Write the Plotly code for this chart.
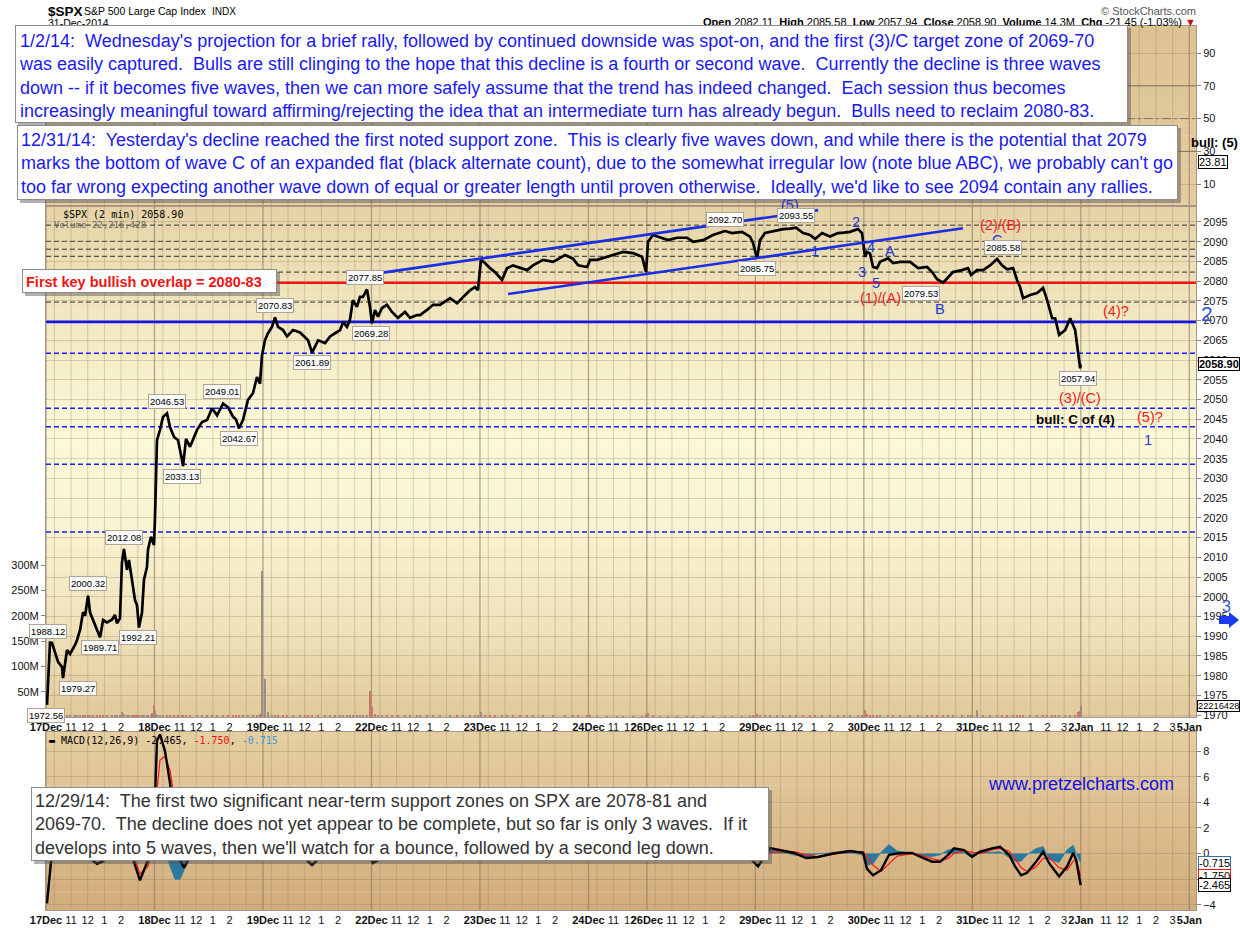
import plotly.graph_objects as go

# ------------------------------------------------------------------ data
# time axis = trading hours since the 17 Dec 2014 open (09:30)
day_names = ["17Dec", "18Dec", "19Dec", "22Dec", "23Dec", "24Dec", "26Dec",
             "29Dec", "30Dec", "31Dec", "2Jan", "5Jan"]
day_start = [0, 6.5, 13, 19.5, 26, 32.5, 36, 42.5, 49, 55.5, 62, 68.5]
day_len = [6.5, 6.5, 6.5, 6.5, 6.5, 3.5, 6.5, 6.5, 6.5, 6.5, 6.5, 6.5]
hour_offsets = [1.5, 2.5, 3.5, 4.5, 5.5]
hour_labels = ["11", "12", "1", "2", "3"]
days_with_3pm_label = ["31Dec", "2Jan"]

t_hours = [
    0.06, 0.24, 0.36, 0.54, 0.72, 0.96, 1.02, 1.26, 1.44, 1.74, 1.86, 2.04, 2.22, 2.34, 2.52, 2.64,
    2.82, 3.06, 3.24, 3.42, 3.65, 3.95, 4.13, 4.25, 4.43, 4.55, 4.67, 4.85, 4.97, 5.15, 5.21, 5.33,
    5.45, 5.57, 5.75, 5.87, 6.05, 6.11, 6.29, 6.35, 6.47,
    6.53, 6.59, 6.65, 6.83, 7.01, 7.25, 7.43, 7.67, 7.91, 8.15, 8.21, 8.39, 8.63, 9.05, 9.35, 9.65,
    9.95, 10.25, 10.61, 10.91, 11.21, 11.38, 11.56, 11.80, 12.10, 12.40, 12.64, 12.82, 12.94,
    13.12, 13.30, 13.54, 13.72, 13.90, 14.20, 14.44, 14.80, 15.22, 15.52, 15.70, 15.94, 16.30,
    16.72, 17.02, 17.32, 17.62, 17.80, 18.03, 18.21, 18.39, 18.63, 18.81, 18.99, 19.23, 19.41,
    19.53, 19.71, 19.89, 20.13, 20.43, 20.73, 21.09, 21.51, 21.81, 22.23, 22.41, 22.83, 23.19,
    23.61, 24.21, 24.63, 24.99, 25.40, 25.70, 25.88,
    26.06, 26.30, 26.60, 26.90, 27.32, 27.62, 27.98, 28.40, 28.82, 29.18, 29.78, 30.38, 31.10,
    31.58, 31.88, 32.42,
    32.60, 33.02, 33.62, 34.21, 34.57, 35.17, 35.71, 35.95,
    36.07, 36.37, 36.79, 37.27, 37.81, 38.41, 38.77, 39.37, 39.96, 40.68, 41.10, 41.70, 42.18, 42.36,
    42.60, 42.78, 43.08, 43.38, 43.80, 44.16, 44.58, 44.94, 45.36, 45.78, 46.08, 46.50, 46.97,
    47.45, 47.81, 48.17, 48.65, 48.89,
    49.07, 49.19, 49.37, 49.55, 49.79, 49.97, 50.45, 50.75, 51.17, 51.77, 52.25, 52.79, 53.09,
    53.39, 53.75, 54.04, 54.34, 54.88, 55.24, 55.42,
    55.78, 56.14, 56.56, 56.98, 57.28, 57.58, 57.94, 58.18, 58.36, 58.54, 58.96, 59.38, 59.74,
    59.98, 60.28, 60.46, 60.70, 61.06, 61.36, 61.66, 61.84, 61.96, 61.99,
]

spx = [
    1972.6, 1988.4, 1988.3, 1985.7, 1983.5, 1982.2, 1979.4, 1986.5, 1985.5, 1987.8, 1989.0, 1991.6,
    1996.1, 1995.2, 2000.3, 1996.0, 1994.1, 1991.6, 1989.7, 1994.1, 1993.5, 1994.2, 1995.4, 1993.3,
    1994.5, 2008.6, 2012.1, 2006.8, 2009.3, 2004.3, 2002.5, 1999.2, 1997.9, 1992.2, 1995.9, 2004.3,
    2007.5, 2011.9, 2015.2, 2014.5, 2013.1,
    2020.0, 2033.0, 2039.7, 2042.3, 2045.6, 2046.5, 2043.0, 2040.5, 2039.7, 2034.7, 2033.1, 2040.0,
    2038.0, 2042.3, 2044.3, 2044.8, 2047.8, 2046.0, 2049.0, 2048.0, 2045.6, 2045.0, 2042.7, 2044.8,
    2049.9, 2051.6, 2055.7, 2054.0, 2061.2,
    2065.0, 2066.8, 2068.4, 2070.8, 2068.4, 2067.6, 2066.0, 2067.6, 2067.0, 2065.9, 2065.0, 2061.9,
    2065.0, 2064.3, 2066.0, 2066.8, 2067.6, 2069.6, 2068.4, 2070.2, 2075.2, 2073.5, 2076.0, 2076.0,
    2077.9, 2073.5,
    2069.3, 2072.7, 2071.0, 2073.2, 2074.0, 2072.2, 2070.7, 2072.2, 2070.7, 2071.4, 2071.4, 2072.7,
    2074.0, 2074.0, 2075.7, 2074.4, 2076.0, 2077.7, 2078.5, 2077.7,
    2085.4, 2084.6, 2083.3, 2082.3, 2080.3, 2083.3, 2084.0, 2083.3, 2082.8, 2084.0, 2085.4, 2084.9,
    2086.6, 2085.7, 2084.0, 2083.6,
    2085.4, 2085.4, 2086.2, 2087.1, 2087.4, 2087.1, 2086.2, 2082.3,
    2090.0, 2091.7, 2091.0, 2090.4, 2091.0, 2091.0, 2090.0, 2090.4, 2091.7, 2092.7, 2092.2, 2092.5,
    2091.3, 2089.7,
    2085.8, 2090.4, 2092.2, 2092.5, 2093.0, 2093.2, 2093.3, 2093.55, 2092.2, 2091.7, 2090.7, 2092.2,
    2091.3, 2092.2, 2092.3, 2092.5, 2093.2, 2092.2,
    2086.2, 2087.4, 2087.0, 2083.6, 2083.3, 2084.9, 2085.8, 2084.6, 2084.9, 2084.9, 2083.3, 2083.6,
    2082.3, 2080.5, 2079.6, 2080.8, 2082.3, 2082.8, 2083.3, 2081.6,
    2082.8, 2082.8, 2084.0, 2085.6, 2084.0, 2083.0, 2083.3, 2080.3, 2078.5, 2075.7, 2076.5, 2077.0,
    2078.3, 2075.2, 2070.6, 2070.6, 2066.4, 2067.6, 2070.6, 2067.6, 2061.8, 2057.9, 2058.9,
]

volume_m = [
    6, 4, 3, 3, 3, 3, 4, 3, 3, 3, 3, 3, 3, 3, 3, 3, 3, 3, 3, 3, 3, 3, 3, 3, 3, 9, 6, 4, 4, 3, 3, 3,
    3, 4, 3, 3, 3, 3, 4, 8, 24,
    12, 6, 4, 3, 3, 3, 3, 3, 3, 3, 3, 3, 3, 3, 3, 3, 3, 3, 3, 3, 3, 3, 3, 3, 3, 3, 4, 5, 288,
    75, 10, 4, 3, 3, 3, 3, 3, 3, 3, 3, 3, 3, 3, 3, 3, 3, 3, 3, 3, 3, 3, 3, 3, 4, 52,
    20, 5, 3, 3, 3, 3, 3, 3, 3, 3, 3, 3, 3, 3, 3, 3, 3, 3, 3, 4,
    9, 4, 3, 3, 3, 3, 3, 3, 3, 3, 3, 3, 3, 3, 3, 4,
    3, 2, 2, 2, 2, 2, 2, 6,
    8, 3, 2, 2, 2, 2, 2, 2, 2, 2, 2, 2, 2, 4,
    6, 4, 3, 3, 3, 3, 3, 3, 3, 3, 3, 3, 3, 3, 3, 3, 3, 4,
    13, 5, 3, 3, 3, 3, 3, 3, 3, 3, 3, 3, 3, 3, 3, 3, 3, 3, 3, 4,
    13, 4, 3, 3, 3, 3, 3, 3, 3, 4, 3, 3, 3, 3, 4, 3, 4, 3, 3, 4, 9, 12, 22.2,
]
last_volume = 22216428

macd_t = [0.06, 0.42, 0.84, 1.44, 2.04, 3.06, 3.42, 4.13, 4.73, 5.33, 5.63, 6.11, 6.47, 6.65, 6.83,
          7.13, 7.43, 7.73, 8.03, 8.27, 8.63, 9.83, 11.62, 12.82, 13.72, 15.22, 15.94, 16.42, 17.62,
          19.11, 19.59, 20.61, 23.0, 26.0, 27.2, 30.8, 34.4, 35.9, 36.2, 39.2, 41.9, 42.66, 43.38,
          44.82, 45.54, 46.26, 47.15, 48.17, 48.95, 49.19, 49.55, 50.03, 50.51, 50.99, 51.89, 52.37,
          53.09, 53.57, 54.04, 54.4, 55.0, 55.48, 55.96, 56.68, 57.16, 57.7, 58.06, 58.42, 58.78,
          59.26, 59.74, 60.1, 60.7, 61.18, 61.54, 61.72, 61.99]
macd_line = [-3.9, 1.0, 0.3, -0.2, 0.2, -0.8, -0.6, 0.0, 1.5, -1.0, -2.1, -0.5, 2.0, 8.8, 9.3, 8.0,
             5.5, 2.0, -0.5, -1.1, -0.3, 0.3, -0.3, 1.5, 1.2, 0.0, -0.9, -0.3, 0.3, 0.6, -0.75, 0.0,
             0.2, 1.0, -0.4, 0.1, 0.2, -0.4, 0.8, 0.0, 0.0, -1.0, 0.43, 0.04, -0.35, -0.27, 0.0, 0.2,
             0.05, -1.2, -1.7, -1.3, -0.1, 0.0, 0.05, -0.25, -0.64, -0.64, -0.12, 0.4, 0.27, -0.25,
             0.14, 0.4, 0.53, -0.1, -1.0, -1.7, -1.5, -0.75, 0.14, -0.75, -1.8, -1.0, 0.04, -0.5,
             -2.465]
macd_signal = [-3.5, 0.5, 0.4, 0.0, 0.1, -0.4, -0.5, -0.1, 0.8, -0.5, -1.6, -1.0, 0.5, 5.0, 7.3, 7.6,
               6.5, 4.0, 1.5, 0.2, -0.3, 0.2, 0.0, 0.8, 1.0, 0.3, -0.5, -0.4, 0.1, 0.4, -0.3, -0.1,
               0.2, 0.6, 0.0, 0.1, 0.2, 0.0, 0.3, 0.1, 0.0, -0.4, 0.1, 0.15, -0.1, -0.25, -0.05,
               0.15, 0.15, -0.3, -0.9, -1.4, -0.8, -0.2, 0.0, -0.1, -0.4, -0.55, -0.4, 0.0, 0.2,
               0.1, 0.0, 0.3, 0.4, 0.2, -0.4, -1.1, -1.4, -1.1, -0.4, -0.3, -1.1, -1.3, -0.6, -0.5,
               -1.75]
macd_hist = [-0.4, 0.5, -0.1, -0.2, 0.1, -0.4, -0.1, 0.1, 0.7, -0.5, -0.5, 0.5, 1.5, 3.8, 2.0, 0.4,
             -1.0, -2.0, -2.0, -1.3, 0.0, 0.1, -0.3, 0.7, 0.2, -0.3, -0.4, 0.1, 0.2, 0.2, -0.45, 0.1,
             0.0, 0.4, -0.4, 0.0, 0.0, -0.4, 0.5, -0.1, 0.0, -0.6, 0.33, -0.11, -0.25, -0.02, 0.05,
             0.05, -0.1, -0.9, -0.8, 0.1, 0.7, 0.2, 0.05, -0.15, -0.24, -0.09, 0.28, 0.4, 0.07,
             -0.35, 0.14, 0.1, 0.13, -0.3, -0.6, -0.6, -0.1, 0.35, 0.54, -0.45, -0.7, 0.3, 0.64,
             0.0, -0.715]

rsi_last = 23.81

# labelled highs / lows
label_values = [1972.56, 1979.27, 1988.12, 1989.71, 2000.32, 1992.21, 2012.08, 2046.53, 2033.13,
                2049.01, 2042.67, 2070.83, 2061.89, 2077.85, 2069.28, 2092.70, 2093.55, 2085.75,
                2079.53, 2085.58, 2057.94]
label_t = [0.0, 1.92, 0.12, 3.24, 2.52, 5.51, 4.67, 7.25, 8.15, 10.55, 11.56, 13.72, 15.94, 19.11,
           19.47, 40.68, 44.94, 42.6, 52.43, 57.34, 61.84]
label_above = [False, False, True, False, True, False, True, True, False, True, False, True, False,
               True, False, True, True, False, False, True, False]

# horizontal levels
fib_black = [2094.2, 2090.1, 2088.1, 2086.3, 2082.3, 2074.7]
support_blue_dashed = [2061.7, 2047.8, 2043.1, 2033.6, 2016.4]
overlap_red = 2079.6
support_blue = 2069.7

# rising channel
channel_upper_t = [19.23, 46.26]
channel_upper_p = [2081.6, 2098.0]
channel_lower_t = [27.68, 54.94]
channel_lower_p = [2076.75, 2093.4]

rsi_levels = [70, 50, 30]

assert len(t_hours) == len(spx) == len(volume_m)
assert len(macd_t) == len(macd_line) == len(macd_signal) == len(macd_hist)

# ------------------------------------------------------------------ geometry
W, H = 1240, 928
ML, MR, MT, MB = 46, 44, 26, 18
PW = W - ML - MR
PH = H - MT - MB


def PX(x):
    return (x - ML) / PW


def PY(y):
    return (H - MB - y) / PH


DOM_TOP = [PY(205), 1.0]
DOM_PRICE = [PY(717), PY(207)]
DOM_MACD = [0.0, PY(732)]
X_RANGE = [0, 68.9]
FONT = "Liberation Sans, Arial, sans-serif"
MONO = "DejaVu Sans Mono, monospace"
BLUE = "#1a1af0"
WAVE_BLUE = "#2238d0"
RED = "#ee2222"

shapes = []
annotations = []


# ---------------- background gradients
def interp(stops, f):
    for (f0, c0), (f1, c1) in zip(stops[:-1], stops[1:]):
        if f0 <= f <= f1:
            a = (f - f0) / (f1 - f0) if f1 > f0 else 0
            return "rgb(%d,%d,%d)" % tuple(round(c0[i] + (c1[i] - c0[i]) * a) for i in range(3))
    return "rgb(%d,%d,%d)" % stops[-1][1]


def gradient(ytop, ybot, stops, n):
    for i in range(n):
        ya = ytop + (ybot - ytop) * i / n
        yb = ytop + (ybot - ytop) * (i + 1) / n
        shapes.append(dict(type="rect", xref="paper", yref="paper", x0=0, x1=1,
                           y0=PY(yb + 0.4), y1=PY(ya), fillcolor=interp(stops, (i + 0.5) / n),
                           line=dict(width=0), layer="below"))


gradient(26, 205, [(0, (221, 194, 147)), (1, (227, 205, 160))], 18)
gradient(207, 717, [(0, (229, 211, 167)), (0.2, (241, 230, 191)), (0.45, (251, 249, 216)),
                    (0.62, (249, 244, 210)), (0.82, (240, 227, 188)), (1, (225, 202, 154))], 60)
gradient(732, 910, [(0, (230, 207, 161)), (1, (209, 172, 124))], 20)

# ---------------- vertical grid
day_lines, hour_lines = [], []
for s, L in zip(day_start, day_len):
    if s <= X_RANGE[1]:
        day_lines.append(s)
    for off in [0.5, 1.5, 2.5, 3.5, 4.5, 5.5]:
        if off < L and s + off < X_RANGE[1]:
            hour_lines.append(s + off)
for dom in (DOM_TOP, DOM_PRICE, DOM_MACD):
    shapes.append(dict(type="path", xref="x", yref="paper", layer="below",
                       path=" ".join("M%.3f,%.5f L%.3f,%.5f" % (x, dom[0], x, dom[1]) for x in hour_lines),
                       line=dict(color="rgba(150,128,98,0.33)", width=1)))
    shapes.append(dict(type="path", xref="x", yref="paper", layer="below",
                       path=" ".join("M%.3f,%.5f L%.3f,%.5f" % (x, dom[0], x, dom[1]) for x in day_lines),
                       line=dict(color="rgba(135,115,95,0.6)", width=1.3)))

# ---------------- horizontal levels
for lv in fib_black:
    shapes.append(dict(type="line", xref="paper", yref="y2", x0=0, x1=1, y0=lv, y1=lv, layer="between",
                       line=dict(color="#333333", width=1, dash="5px,3px")))
for lv in support_blue_dashed:
    shapes.append(dict(type="line", xref="paper", yref="y2", x0=0, x1=1, y0=lv, y1=lv, layer="between",
                       line=dict(color="#1a1aff", width=1.5, dash="5px,3px")))
shapes.append(dict(type="line", xref="paper", yref="y2", x0=0, x1=1, y0=overlap_red, y1=overlap_red,
                   layer="between", line=dict(color="#ff1010", width=2.6)))
shapes.append(dict(type="line", xref="paper", yref="y2", x0=0, x1=1, y0=support_blue, y1=support_blue,
                   layer="between", line=dict(color="#1414f0", width=2.8)))
for lv in rsi_levels:
    shapes.append(dict(type="line", xref="paper", yref="y3", x0=0, x1=1, y0=lv, y1=lv, layer="between",
                       line=dict(color="#7a6e62", width=1, dash="dashdot" if lv == 50 else "solid")))

# blue arrow at the right edge
ax0, ax1, ahead = 1219, 1239, 1229
ay = 620
shapes.append(dict(type="path", xref="paper", yref="paper", fillcolor="#1a3cf0", line=dict(width=0),
                   path="M%f,%f L%f,%f L%f,%f L%f,%f L%f,%f L%f,%f L%f,%f Z" % (
                       PX(ax0), PY(ay - 4), PX(ahead), PY(ay - 4), PX(ahead), PY(ay - 8),
                       PX(ax1), PY(ay), PX(ahead), PY(ay + 8), PX(ahead), PY(ay + 4),
                       PX(ax0), PY(ay + 4))))


# ---------------- annotations
def text(s, x, y, size=11, color="black", xanchor="left", yanchor="middle", family=FONT, align="left"):
    annotations.append(dict(text=s, x=PX(x), y=PY(y), xref="paper", yref="paper", showarrow=False,
                            xanchor=xanchor, yanchor=yanchor, align=align, borderpad=0,
                            font=dict(size=size, color=color, family=family)))


def box(x0, y0, x1, y1, border="#8c8c8c", shadow=True):
    if shadow:
        annotations.append(dict(text=" ", x=PX(x0 + 3), y=PY(y0 + 3), xref="paper", yref="paper",
                                showarrow=False, xanchor="left", yanchor="top", width=x1 - x0,
                                height=y1 - y0, bgcolor="rgba(80,80,80,0.45)", borderpad=0,
                                borderwidth=0, font=dict(size=1)))
    annotations.append(dict(text=" ", x=PX(x0), y=PY(y0), xref="paper", yref="paper", showarrow=False,
                            xanchor="left", yanchor="top", width=x1 - x0 - 2, height=y1 - y0 - 2,
                            bgcolor="white", bordercolor=border, borderwidth=1, borderpad=0,
                            font=dict(size=1)))


# header (drawn first so the comment boxes overlap it)
text("<b>$SPX</b>", 47, 11, size=13.5)
text("S&P 500 Large Cap Index", 83, 11, size=10.5)
text("INDX", 211, 11, size=10)
text("31-Dec-2014", 47, 23, size=10.5)
text("© StockCharts.com", 1197, 11, size=11, color="#555555", xanchor="right")
text("<b>Open</b> 2082.11  <b>High</b> 2085.58  <b>Low</b> 2057.94  <b>Close</b> 2058.90  "
     "<b>Volume</b> 14.3M  <b>Chg</b> -21.45 (-1.03%) <span style='color:#c01010'>▼</span>",
     1197, 22, size=11, xanchor="right")

# comment boxes
box(15, 25, 1128, 123)
text("1/2/14:  Wednesday's projection for a brief rally, followed by continued downside was spot-on, and the first (3)/C target zone of 2069-70<br>"
     "was easily captured.  Bulls are still clinging to the hope that this decline is a fourth or second wave.  Currently the decline is three waves<br>"
     "down -- if it becomes five waves, then we can more safely assume that the trend has indeed changed.  Each session thus becomes<br>"
     "increasingly meaningful toward affirming/rejecting the idea that an intermediate turn has already begun.  Bulls need to reclaim 2080-83.",
     18, 75.5, size=18, color=BLUE)
box(17, 125, 1178, 200)
text("12/31/14:  Yesterday's decline reached the first noted support zone.  This is clearly five waves down, and while there is the potential that 2079<br>"
     "marks the bottom of wave C of an expanded flat (black alternate count), due to the somewhat irregular low (note blue ABC), we probably can't go<br>"
     "too far wrong expecting another wave down of equal or greater length until proven otherwise.  Ideally, we'd like to see 2094 contain any rallies.",
     20, 163, size=18, color=BLUE)
box(22, 269, 277, 293)
text("<b>First key bullish overlap = 2080-83</b>", 25, 281.5, size=14.5, color="#f01414")
box(31, 787, 769, 861)
text("12/29/14:  The first two significant near-term support zones on SPX are 2078-81 and<br>"
     "2069-70.  The decline does not yet appear to be complete, but so far is only 3 waves.  If it<br>"
     "develops into 5 waves, then we'll watch for a bounce, followed by a second leg down.",
     34, 824.5, size=18, color="#333333")

# legends inside panels
text("$SPX (2 min) 2058.90", 62, 214, size=10, family=MONO)
text("Volume 22,216,428", 53, 225, size=9, color="#666666", family=MONO)
text("<span style='color:black'>▬</span> MACD(12,26,9) -2.465, <span style='color:#ee1111'>-1.750</span>, "
     "<span style='color:#3a9ad9'>-0.715</span>", 48, 740, size=10, family=MONO)
text("www.pretzelcharts.com", 1081, 784, size=18, color="#1010e8", xanchor="center")

# wave count labels
waves = [("(5)", 790, 205, WAVE_BLUE), ("2", 856, 222, WAVE_BLUE), ("1", 815, 251, WAVE_BLUE),
         ("4", 871, 247, WAVE_BLUE), ("3", 862, 272, WAVE_BLUE), ("5", 876, 283, WAVE_BLUE),
         ("A", 890, 251, WAVE_BLUE), ("B", 940, 309, WAVE_BLUE), ("C", 997, 240, WAVE_BLUE),
         ("(1)/(A)", 880, 298, RED), ("(2)/(B)", 1000, 225, RED), ("(3)/(C)", 1080, 398, RED),
         ("(4)?", 1116, 311, RED), ("(5)?", 1150, 417, RED), ("1", 1148, 440, WAVE_BLUE)]
for s, x, y, c in waves:
    text(s, x, y, size=14.5, color=c, xanchor="center")
text("<b>bull: C of (4)</b>", 1075, 419, size=13.5, xanchor="center")
text("<b>bull: (5)</b>", 1214, 143, size=13, xanchor="center")
text("2", 1207, 314, size=21, color="#3050e0", xanchor="center")
text("3", 1226, 606, size=16, color="#3050e0", xanchor="center")

# high / low value labels
for v, tx, up in zip(label_values, label_t, label_above):
    annotations.append(dict(text="%.2f" % v, x=tx, y=v, xref="x", yref="y2", showarrow=False,
                            yshift=12 if up else -10, font=dict(size=9.5, family=FONT, color="black"),
                            bgcolor="#fcfcfc", bordercolor="#b3a393", borderwidth=1, borderpad=1))


# right-edge value tags
def tag(s, yref, yv, border="black", bold=False, size=11, x=1198):
    annotations.append(dict(text=("<b>%s</b>" % s) if bold else s, x=PX(x), y=yv, xref="paper",
                            yref=yref, showarrow=False, xanchor="left", yanchor="middle",
                            font=dict(size=size, family=FONT, color="black"), bgcolor="white",
                            bordercolor=border, borderwidth=1, borderpad=0))


tag("2058.90", "y2", spx[-1], bold=True)
tag(str(last_volume), "y", last_volume, size=9.3, x=1197)
tag("%.2f" % rsi_last, "y3", rsi_last)
tag("%.3f" % macd_hist[-1], "y4", macd_hist[-1], border="#3a6ea5")
tag("%.3f" % macd_signal[-1], "y4", macd_signal[-1], border="#ee1111")
tag("%.3f" % macd_line[-1], "y4", macd_line[-1])

# ------------------------------------------------------------------ traces
vol_colors = ["#9a8f84"] + ["#c9786c" if spx[i] < spx[i - 1] else "#9a8f84" for i in range(1, len(spx))]
fig = go.Figure()
fig.add_trace(go.Bar(x=t_hours, y=[v * 1e6 for v in volume_m], width=0.1,
                     marker=dict(color=vol_colors, line=dict(width=0)),
                     xaxis="x", yaxis="y", hoverinfo="skip"))
fig.add_trace(go.Scatter(x=t_hours, y=spx, mode="lines", line=dict(color="black", width=2.7),
                         xaxis="x", yaxis="y2"))
for tt, pp in ((channel_upper_t, channel_upper_p), (channel_lower_t, channel_lower_p)):
    fig.add_trace(go.Scatter(x=tt, y=pp, mode="lines", line=dict(color="#1a2ee6", width=2.6),
                             xaxis="x", yaxis="y2"))
fig.add_trace(go.Scatter(x=[t_hours[-1]], y=[rsi_last], mode="lines", line=dict(color="black", width=1),
                         xaxis="x3", yaxis="y3"))
fig.add_trace(go.Scatter(x=macd_t, y=macd_hist, mode="lines", fill="tozeroy", fillcolor="#2a7aa0",
                         line=dict(color="#2a7aa0", width=0.8), xaxis="x2", yaxis="y4"))
fig.add_trace(go.Scatter(x=macd_t, y=macd_signal, mode="lines", line=dict(color="#ff1a1a", width=1.3),
                         xaxis="x2", yaxis="y4"))
fig.add_trace(go.Scatter(x=macd_t, y=macd_line, mode="lines", line=dict(color="black", width=2.4),
                         xaxis="x2", yaxis="y4"))

# ------------------------------------------------------------------ axes
tickvals, ticktext = [], []
for name, s, L in zip(day_names, day_start, day_len):
    tickvals.append(s)
    ticktext.append("<b>%s</b>" % name)
    for off, lab in zip(hour_offsets, hour_labels):
        if off < L and s + off < X_RANGE[1]:
            if lab == "3" and name not in days_with_3pm_label:
                continue
            tickvals.append(s + off)
            ticktext.append(lab)

LINE = "#a89484"
TICKFONT = dict(size=11, family=FONT, color="#111111")
xcommon = dict(range=X_RANGE, showgrid=False, zeroline=False, showline=True, mirror=True, linecolor=LINE,
               tickmode="array", tickvals=tickvals, ticktext=ticktext, ticks="", tickangle=0,
               automargin=False)
GRID = "rgba(150,128,98,0.33)"
ycommon = dict(zeroline=False, automargin=False, ticks="outside", ticklen=4, tickcolor="#888888",
               tickfont=TICKFONT, tickmode="array")

fig.update_layout(
    width=W, height=H, margin=dict(l=ML, r=MR, t=MT, b=MB, autoexpand=False), showlegend=False,
    paper_bgcolor="white", plot_bgcolor="rgba(0,0,0,0)", hovermode=False,
    font=dict(family=FONT, size=11, color="black"), bargap=0,
    xaxis=dict(domain=[0, 1], anchor="y", tickfont=TICKFONT, **xcommon),
    xaxis2=dict(domain=[0, 1], anchor="y4", matches="x", tickfont=TICKFONT, **xcommon),
    xaxis3=dict(domain=[0, 1], anchor="y3", matches="x", showticklabels=False, **xcommon),
    yaxis=dict(domain=DOM_PRICE, range=[0, 1.008e9], side="left", showgrid=False,
               showline=True, mirror=True, linecolor=LINE,
               tickvals=[50e6, 100e6, 150e6, 200e6, 250e6, 300e6],
               ticktext=["50M", "100M", "150M", "200M", "250M", "300M"], **ycommon),
    yaxis2=dict(range=[1969.52, 2098.8], overlaying="y", side="right", anchor="x", showgrid=True,
                gridcolor=GRID, tickvals=list(range(1970, 2100, 5)), **ycommon),
    yaxis3=dict(domain=DOM_TOP, range=[-2.7, 106.5], side="right", anchor="x3", showgrid=True,
                gridcolor=GRID, showline=True, mirror=True, linecolor=LINE,
                tickvals=[10, 30, 50, 70, 90], **ycommon),
    yaxis4=dict(domain=DOM_MACD, range=[-4.41, 9.49], side="right", anchor="x2", showgrid=True,
                gridcolor=GRID, showline=True, mirror=True, linecolor=LINE,
                tickvals=[-4, -2, 0, 2, 4, 6, 8], **ycommon),
    shapes=shapes, annotations=annotations,
)

fig.write_html("out.html", config={"displayModeBar": False, "staticPlot": True},
               post_script="document.body.style.margin='0px';document.body.style.overflow='hidden';")
